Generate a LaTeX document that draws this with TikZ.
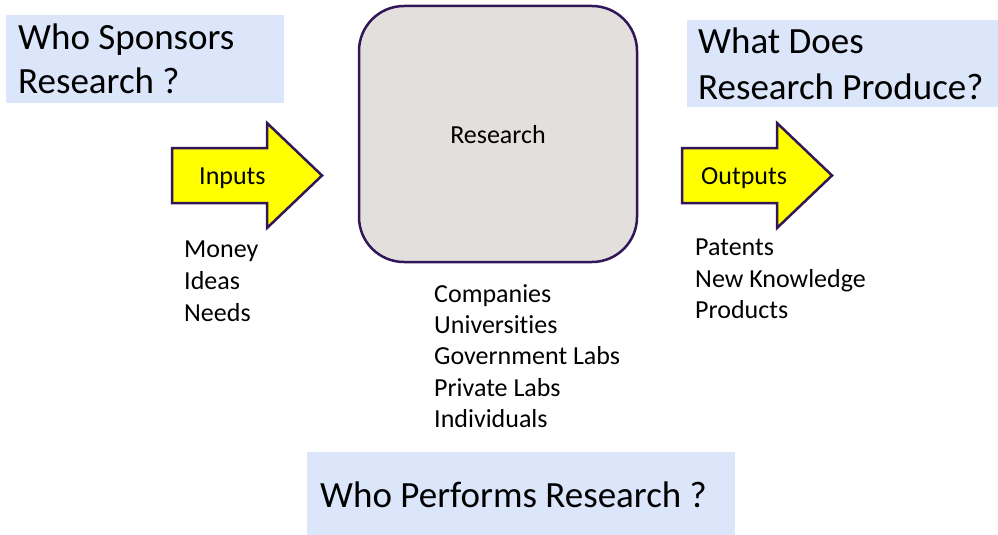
\documentclass[tikz,border=0pt]{standalone}
\usepackage{fontspec}
\setmainfont[Ligatures=NoCommon]{Carlito}
\begin{document}
\definecolor{qbox}{RGB}{219,230,250}
\definecolor{resfill}{RGB}{226,223,220}
\definecolor{edge}{RGB}{50,22,90}
\definecolor{arrowfill}{RGB}{255,255,0}
\begin{tikzpicture}[x=1pt,y=-1pt,
  bigtext/.style={font=\fontsize{37}{46}\selectfont, anchor=base west, inner sep=0pt},
  smalltext/.style={font=\fontsize{26}{31}\selectfont, anchor=base west, inner sep=0pt, align=left},
  question/.style={fill=qbox, draw=none},
  fatarrow/.style={fill=arrowfill, draw=edge, line width=2.5pt, line join=miter},
]
\useasboundingbox (0,0) rectangle (998,535);

% question panels
\path[question] (6,15) rectangle (284,103);
\path[question] (687,20) rectangle (998,107);
\path[question] (307,452) rectangle (735,535);

\node[bigtext] (sponsor1) at (18,49) {Who Sponsors};
\node[bigtext] (sponsor2) at (18,93) {Research ?};
\node[bigtext] (produce1) at (698,53) {What Does};
\node[bigtext] (produce2) at (698,99) {Research Produce?};
\node[bigtext] (perform) at (320,507) {Who Performs Research ?};

% central research block
\draw[fill=resfill, draw=edge, line width=2.5pt, rounded corners=45pt]
  (359,6) rectangle (637,262);
\node[smalltext, anchor=base] (research) at (498,143) {Research};

% input and output arrows
\draw[fatarrow] (172,148) -- (267,148) -- (267,123) -- (322,175.5)
  -- (267,228) -- (267,203) -- (172,203) -- cycle;
\draw[fatarrow] (682,148) -- (777,148) -- (777,123) -- (832,175.5)
  -- (777,228) -- (777,203) -- (682,203) -- cycle;
\node[smalltext] (inputs) at (199,184) {Inputs};
\node[smalltext] (outputs) at (701,184) {Outputs};

% lists
\node[smalltext] (money) at (184,257) {Money};
\node[smalltext] (ideas) at (184,289) {Ideas};
\node[smalltext] (needs) at (184,321) {Needs};

\node[smalltext] (companies) at (434,302) {Companies};
\node[smalltext] (universities) at (434,333) {Universities};
\node[smalltext] (government) at (434,364) {Government Labs};
\node[smalltext] (private) at (434,396) {Private Labs};
\node[smalltext] (individuals) at (434,427) {Individuals};

\node[smalltext] (patents) at (695,255) {Patents};
\node[smalltext] (knowledge) at (695,287) {New Knowledge};
\node[smalltext] (products) at (695,318) {Products};
\end{tikzpicture}
\end{document}
